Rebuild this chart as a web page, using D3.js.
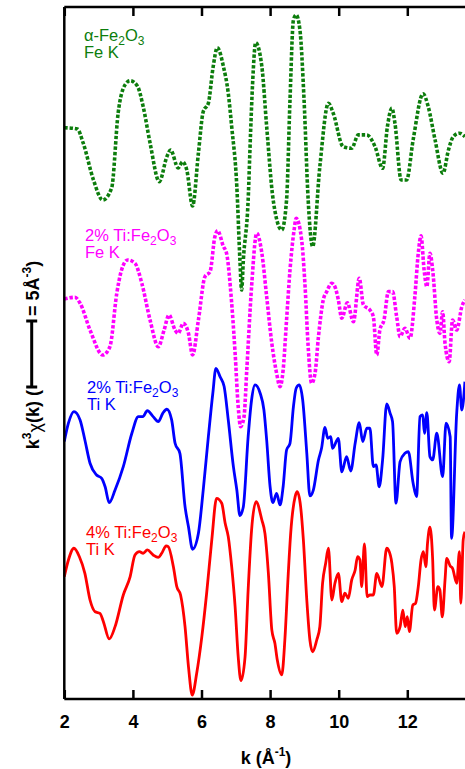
<!DOCTYPE html>
<html>
<head>
<meta charset="utf-8">
<script src="https://cdnjs.cloudflare.com/ajax/libs/d3/7.8.5/d3.min.js"></script>
<style>
body { margin: 0; background: #fff; }
</style>
</head>
<body>
<script>
var w = 465;
var h = 769;

// k values (1/A) and k^3 chi values (A^-3)
var kFe = [2.00,2.38,2.55,2.85,3.12,3.38,3.57,3.77,3.92,4.13,4.30,4.50,4.77,4.99,5.10,5.32,5.45,5.57,5.74,5.91,6.05,6.20,6.34,6.46,6.64,6.78,6.88,7.03,7.12,7.17,7.22,7.36,7.43,7.49,7.58,7.76,7.90,8.09,8.34,8.48,8.58,8.68,8.76,8.87,8.99,9.11,9.24,9.45,9.70,9.84,10.13,10.38,10.57,10.82,11.06,11.28,11.42,11.55,11.64,11.82,11.98,12.17,12.46,12.61,12.81,13.04,13.20,13.34,13.52,13.68];
var chiFe = [0.28,0.18,-0.88,-3.68,-5.2,-4.29,1.39,3.52,3.84,3.44,1.87,-0.88,-3.81,-1.92,-1.41,-2.77,-2.30,-2.92,-5.65,-1.64,1.49,2.13,4.90,6.34,4.90,2.89,0.36,-4.19,-9.74,-12.02,-9.74,-5.20,-0.14,3.65,6.72,4.90,0.36,-5.20,-7.47,-5.20,2.38,8.44,8.82,7.68,2.38,-5.20,-8.73,-2.67,2.13,1.37,-1.16,-1.28,-0.27,-0.27,-1.16,-2.80,0.36,1.75,0.61,-3.68,-3.68,-0.65,2.85,1.87,-0.65,-3.17,-1.41,-0.40,-0.14,-0.40];

var kTi2Fe = [2.00,2.31,2.46,2.75,3.12,3.33,3.53,3.67,3.85,4.06,4.26,4.50,4.74,4.91,5.05,5.23,5.32,5.47,5.62,5.74,5.91,6.10,6.25,6.39,6.47,6.64,6.73,6.88,6.98,7.07,7.14,7.24,7.32,7.46,7.61,7.76,7.90,8.05,8.19,8.29,8.38,8.48,8.58,8.70,8.76,8.92,9.02,9.11,9.21,9.31,9.41,9.55,9.65,9.80,9.89,9.99,10.09,10.25,10.43,10.60,10.72,10.91,11.01,11.11,11.20,11.32,11.45,11.57,11.69,11.79,11.93,12.08,12.22,12.32,12.40,12.49,12.57,12.66,12.74,12.86,12.95,13.03,13.10,13.22,13.32,13.44,13.59,13.68];
var chiTi2Fe = [0.30,0.43,-0.02,-2.05,-3.94,-3.31,0.73,2.50,3.26,3.01,1.49,-1.29,-3.31,-2.05,-0.91,-2.05,-2.30,-1.54,-2.30,-3.94,-1.29,1.99,2.37,5.02,5.48,4.27,3.77,-0.02,-3.81,-7.86,-9.37,-8.61,-5.08,1.23,5.28,3.77,0.48,-3.05,-5.33,-6.34,-5.08,-1.29,2.50,5.53,6.42,4.77,1.23,-3.31,-6.08,-5.33,-2.55,0.23,0.86,1.49,1.23,0.23,-1.16,0.02,-1.42,1.87,-0.15,-0.53,-1.04,-3.94,-2.05,-1.29,0.86,0.86,-1.04,-2.55,-1.92,-2.67,0.48,3.77,5.08,2.50,1.23,3.77,2.50,-1.29,-2.30,-0.66,-3.05,-4.45,-1.29,-2.05,-0.28,0.23];

var kTi2Ti = [2.00,2.12,2.28,2.46,2.60,2.75,2.94,3.09,3.19,3.31,3.48,3.72,3.97,4.16,4.29,4.42,4.59,4.74,4.87,4.99,5.13,5.23,5.37,5.52,5.62,5.74,5.91,6.05,6.20,6.33,6.42,6.54,6.66,6.78,6.93,7.03,7.12,7.22,7.36,7.46,7.56,7.71,7.82,7.90,8.00,8.08,8.19,8.29,8.38,8.48,8.58,8.68,8.76,8.85,8.95,9.07,9.16,9.26,9.41,9.50,9.60,9.68,9.77,9.82,9.99,10.09,10.23,10.35,10.48,10.60,10.70,10.82,10.91,11.01,11.09,11.18,11.28,11.40,11.50,11.57,11.67,11.79,11.93,12.03,12.17,12.27,12.37,12.45,12.50,12.57,12.66,12.74,12.86,13.03,13.13,13.25,13.29,13.44,13.52,13.59,13.68];
var chiTi2Ti = [0.0,1.39,2.27,1.64,0.12,-1.64,-2.53,-2.78,-3.42,-4.63,-3.67,-1.90,0.63,1.89,1.89,2.34,1.89,1.51,2.14,2.45,1.64,-0.13,-0.89,-4.93,-6.45,-8.16,-6.95,-3.67,0.37,3.66,5.55,4.92,4.17,1.64,-1.90,-3.67,-5.60,-4.93,0.37,3.15,4.29,3.66,2.39,0.12,-3.42,-4.63,-3.92,-4.80,-3.42,-0.64,-0.13,2.64,4.04,4.29,3.15,-0.89,-4.12,-3.67,-1.39,-0.51,1.08,0.25,0.37,-0.51,0.25,-2.30,-1.14,-2.23,-0.13,1.43,0.0,1.01,1.01,-1.90,-1.77,-3.42,-1.39,2.85,2.14,1.51,-4.67,-1.52,-0.89,-0.77,-3.16,-4.17,1.89,2.02,0.63,2.19,-1.14,-1.39,0.63,-2.66,1.39,0.37,-7.33,2.14,4.29,2.39,4.54];

var kTi4Ti = [2.00,2.12,2.28,2.44,2.60,2.75,2.90,3.04,3.14,3.31,3.48,3.72,3.92,4.06,4.19,4.30,4.42,4.59,4.74,4.84,4.97,5.03,5.18,5.28,5.39,5.52,5.62,5.73,5.86,6.01,6.15,6.30,6.44,6.59,6.69,6.78,6.88,6.98,7.07,7.15,7.27,7.36,7.46,7.59,7.76,7.85,7.95,8.05,8.14,8.21,8.34,8.43,8.53,8.60,8.73,8.79,8.89,8.97,9.07,9.16,9.24,9.36,9.45,9.53,9.62,9.70,9.80,9.89,9.99,10.09,10.18,10.28,10.38,10.48,10.55,10.62,10.67,10.75,10.83,10.91,11.01,11.11,11.26,11.40,11.45,11.55,11.62,11.69,11.79,11.87,11.94,12.00,12.06,12.16,12.24,12.32,12.40,12.47,12.54,12.59,12.66,12.74,12.79,12.89,12.95,13.02,13.10,13.15,13.25,13.32,13.44,13.52,13.56,13.63,13.68];
var chiTi4Ti = [0.27,1.53,2.42,1.78,0.52,-1.50,-2.39,-2.51,-3.14,-4.45,-3.52,-1.12,0.27,1.91,2.16,2.04,2.29,1.91,1.73,2.04,2.59,2.54,1.02,-0.49,-1.12,-3.52,-6.55,-8.70,-7.05,-4.28,-0.99,3.05,6.20,5.83,4.31,3.30,1.02,-2.01,-5.80,-7.61,-5.80,-0.74,3.80,5.95,4.56,3.55,0.52,-3.77,-4.78,-6.05,-7.18,-4.53,0.52,3.55,6.33,6.70,5.57,3.05,-1.50,-4.53,-5.42,-4.53,-3.52,-0.23,1.28,2.42,-1.50,-0.23,0.52,-1.63,-0.99,-1.37,0.02,0.77,1.78,1.53,-0.49,2.74,-1.25,-1.12,-1.12,0.52,-0.49,2.42,2.29,1.28,-0.49,-4.02,-3.52,-2.26,-3.52,-2.77,-3.90,-1.88,-1.75,-0.49,1.53,2.16,1.02,2.80,4.01,1.53,-2.26,-0.49,-0.74,-2.77,0.02,1.66,1.08,0.90,-0.23,2.16,-1.75,3.05,3.67];

var kTicks = [2, 4, 6, 8, 10, 12];

var series = [
    {k: kFe,    chi: chiFe,    offset: 43,   color: "#0c7d0c", dotted: true,
     label: ["\u03b1-Fe", "2", "O", "3"], edge: "Fe K", lx: 84, ly: 41},
    {k: kTi2Fe, chi: chiTi2Fe, offset: 30,   color: "#ff00ff", dotted: true,
     label: ["2% Ti:Fe", "2", "O", "3"], edge: "Fe K", lx: 85, ly: 241},
    {k: kTi2Ti, chi: chiTi2Ti, offset: 19.5, color: "#0000ff", dotted: false,
     label: ["2% Ti:Fe", "2", "O", "3"], edge: "Ti K", lx: 87, ly: 393},
    {k: kTi4Ti, chi: chiTi4Ti, offset: 9,    color: "#ff0000", dotted: false,
     label: ["4% Ti:Fe", "2", "O", "3"], edge: "Ti K", lx: 86, ly: 538}
];

var plotLeft = 64.3, plotTop = 7, plotBottom = 699;
var font = "Helvetica, Arial, 'Liberation Sans', sans-serif";

var x = d3.scaleLinear().domain([2, 14]).range([plotLeft, plotLeft + 12 * 34.3]);
var y = d3.scaleLinear().domain([0, 52.42]).range([plotBottom, plotTop]);

var svg = d3.select("body")
            .append("svg")
                .attr("width", w)
                .attr("height", h);

// curves
var line = d3.line()
    .x(function(d) { return x(d[0]); })
    .y(function(d) { return y(d[1]); })
    .curve(d3.curveMonotoneX);

series.forEach(function(s) {
    var pts = d3.zip(s.k, s.chi).map(function(p) { return [p[0], p[1] + s.offset]; });
    svg.append("path")
        .datum(pts)
        .attr("d", line)
        .attr("fill", "none")
        .attr("stroke", s.color)
        .attr("stroke-width", s.dotted ? 3.6 : 2.8)
        .attr("stroke-dasharray", s.dotted ? "3.4,1.9" : null)
        .attr("stroke-linejoin", "round");

    var t = svg.append("text")
        .attr("x", s.lx)
        .attr("y", s.ly)
        .attr("fill", s.color)
        .attr("font-family", font)
        .attr("font-size", 16.5);
    t.append("tspan").text(s.label[0]);
    t.append("tspan").text(s.label[1]).attr("font-size", 12).attr("dy", 4);
    t.append("tspan").text(s.label[2]).attr("dy", -4);
    t.append("tspan").text(s.label[3]).attr("font-size", 12).attr("dy", 4);

    svg.append("text")
        .attr("x", s.lx)
        .attr("y", s.ly + 17)
        .attr("fill", s.color)
        .attr("font-family", font)
        .attr("font-size", 16.5)
        .text(s.edge);
});

// axes
var xBottom = d3.axisBottom(x)
    .tickValues(kTicks)
    .tickSizeInner(-9)
    .tickSizeOuter(0)
    .tickPadding(16);

var gb = svg.append("g")
    .attr("transform", "translate(0," + plotBottom + ")")
    .call(xBottom);
gb.select(".domain").attr("stroke-width", 2.5).attr("d", "M" + plotLeft + ",0H" + w);
gb.selectAll(".tick line").attr("stroke-width", 2.5);
gb.selectAll(".tick text")
    .attr("font-family", font)
    .attr("font-size", 18)
    .attr("font-weight", "bold")
    .attr("fill", "#000");

var xTop = d3.axisTop(x)
    .tickValues(kTicks)
    .tickSizeInner(-9)
    .tickSizeOuter(0)
    .tickFormat("");

var gt = svg.append("g")
    .attr("transform", "translate(0," + plotTop + ")")
    .call(xTop);
gt.select(".domain").attr("stroke-width", 2.5).attr("d", "M" + plotLeft + ",0H" + w);
gt.selectAll(".tick line").attr("stroke-width", 2.5);

svg.append("line")
    .attr("x1", plotLeft).attr("x2", plotLeft)
    .attr("y1", plotTop).attr("y2", plotBottom)
    .attr("stroke", "#000")
    .attr("stroke-width", 2.5);

// x title
var xt = svg.append("text")
    .attr("x", 266)
    .attr("y", 764)
    .attr("text-anchor", "middle")
    .attr("font-family", font)
    .attr("font-size", 18)
    .attr("font-weight", "bold");
xt.append("tspan").text("k (\u00c5");
xt.append("tspan").text("-1").attr("font-size", 12).attr("dy", -8);
xt.append("tspan").text(")").attr("dy", 8);

// y title with scale bar
var barMid = 354;
var barLen = y(0) - y(5);
var yl = svg.append("g").attr("transform", "translate(39,0) rotate(-90)");

var t1 = yl.append("text")
    .attr("x", -(barMid + barLen / 2 + 3))
    .attr("y", 0)
    .attr("text-anchor", "end")
    .attr("font-family", font)
    .attr("font-size", 18)
    .attr("font-weight", "bold");
t1.append("tspan").text("k");
t1.append("tspan").text("3").attr("font-size", 12).attr("dy", -8);
t1.append("tspan").text("\u03c7").attr("dy", 10).attr("font-weight", "normal");
t1.append("tspan").text("(k) (").attr("dy", -2);

var t2 = yl.append("text")
    .attr("x", -(barMid - barLen / 2 - 5))
    .attr("y", 0)
    .attr("font-family", font)
    .attr("font-size", 18)
    .attr("font-weight", "bold");
t2.append("tspan").text("= 5\u00c5");
t2.append("tspan").text("-3").attr("font-size", 12).attr("dy", -8);
t2.append("tspan").text(")").attr("dy", 8);

var bx = 31.7;
svg.append("line")
    .attr("x1", bx).attr("x2", bx)
    .attr("y1", barMid - barLen / 2).attr("y2", barMid + barLen / 2)
    .attr("stroke", "#000").attr("stroke-width", 3);
[barMid - barLen / 2, barMid + barLen / 2].forEach(function(v) {
    svg.append("line")
        .attr("x1", bx - 5.5).attr("x2", bx + 5.5)
        .attr("y1", v).attr("y2", v)
        .attr("stroke", "#000").attr("stroke-width", 3);
});
</script>
</body>
</html>
